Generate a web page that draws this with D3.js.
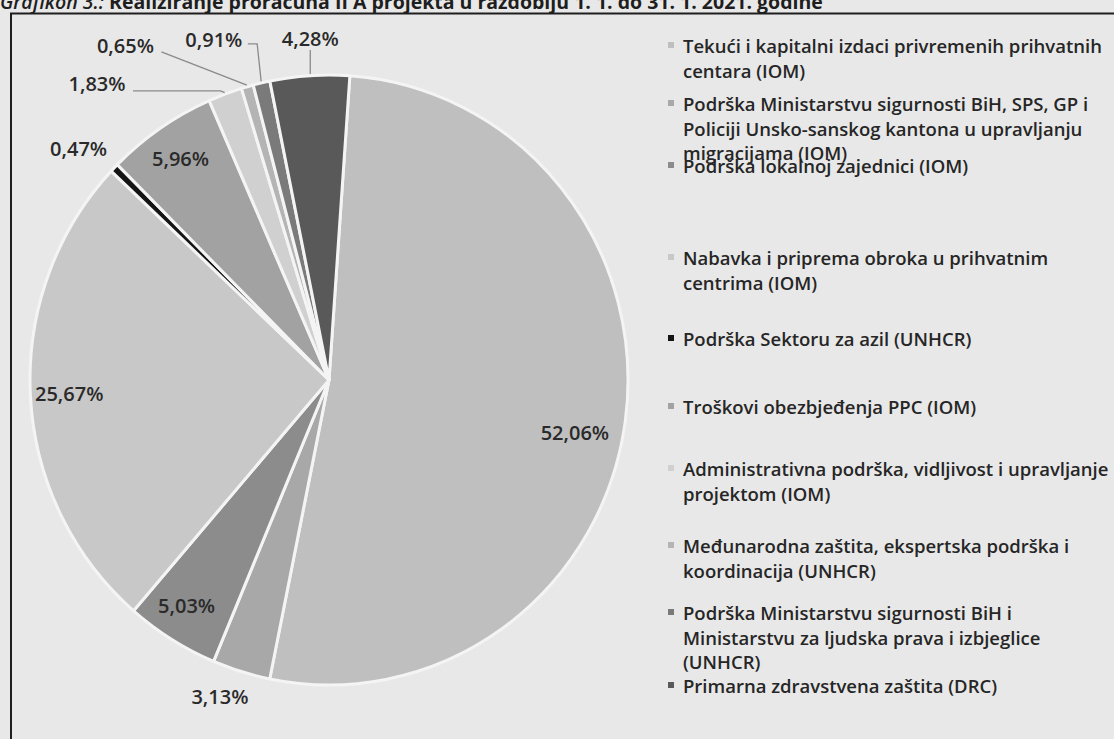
<!DOCTYPE html>
<html>
<head>
<meta charset="utf-8">
<script src="https://cdn.jsdelivr.net/npm/d3@7"></script>
<style>
  html, body { margin: 0; padding: 0; background: #e8e8e8; }
  svg { display: block; }
  text { font-family: "Open Sans", "DejaVu Sans", sans-serif; }
</style>
</head>
<body>
<svg id="chart" width="1114" height="739"></svg>
<script>
// ---------- data ----------
const titleLead = "Grafikon 3.: ";
const titleText = "Realiziranje proračuna II A projekta u razdoblju 1. 1. do 31. 1. 2021. godine";
const categories = [
  ["Tekući i kapitalni izdaci privremenih prihvatnih", "centara (IOM)"],
  ["Podrška Ministarstvu sigurnosti BiH, SPS, GP i", "Policiji Unsko-sanskog kantona u upravljanju", "migracijama (IOM)"],
  ["Podrška lokalnoj zajednici (IOM)"],
  ["Nabavka i priprema obroka u prihvatnim", "centrima (IOM)"],
  ["Podrška Sektoru za azil (UNHCR)"],
  ["Troškovi obezbjeđenja PPC (IOM)"],
  ["Administrativna podrška, vidljivost i upravljanje", "projektom (IOM)"],
  ["Međunarodna zaštita, ekspertska podrška i", "koordinacija (UNHCR)"],
  ["Podrška Ministarstvu sigurnosti BiH i", "Ministarstvu za ljudska prava i izbjeglice", "(UNHCR)"],
  ["Primarna zdravstvena zaštita (DRC)"]
];
const values = [52.06, 3.13, 5.03, 25.67, 0.47, 5.96, 1.83, 0.65, 0.91, 4.28];
const valueLabels = ["52,06%", "3,13%", "5,03%", "25,67%", "0,47%", "5,96%", "1,83%", "0,65%", "0,91%", "4,28%"];

// ---------- styles / layout ----------
const colors = ["#bfbfbf", "#a8a8a8", "#8c8c8c", "#c8c8c8", "#141414", "#a2a2a2", "#d0d0d0", "#b4b4b4", "#7a7a7a", "#595959"];
const cx = 329, cy = 380, RX = 299, RY = 305;
const rotation = 4 * Math.PI / 180;
// label placement: [angle offset from slice middle (deg), radius factor]
const labelPolar = [[4, 0.84], [2.3, 1.10], [1, 0.88], [0, 0.87], [-1.9, 1.13], [0, 0.88], [-18.3, 1.243], [-16, 1.29], [-6, 1.18], [0.5, 1.12]];
const leaderType = [null, null, null, null, null, null, "h", "d", "elbow", "v"];
const legendFirstLineY = [45, 103, 165, 257, 338, 406, 468, 545, 612, 685];
const legendLineH = 24.5;

const svg = d3.select("#chart");

svg.append("rect").attr("x", 0).attr("y", 0).attr("width", 1114).attr("height", 739).attr("fill", "#e8e8e8");
svg.append("line").attr("x1", 10).attr("x2", 1114).attr("y1", 13.5).attr("y2", 13.5).attr("stroke", "#1e1e1e").attr("stroke-width", 2);
svg.append("line").attr("x1", 11).attr("x2", 11).attr("y1", 13).attr("y2", 739).attr("stroke", "#1e1e1e").attr("stroke-width", 2);

// title (cut off at top like the reference)
const t = svg.append("text").attr("x", 0).attr("y", 9).attr("font-size", 19.5).attr("fill", "#1e1e1e").attr("font-weight", 700);
t.append("tspan").attr("font-style", "italic").attr("font-weight", 600).text(titleLead);
t.append("tspan").text(titleText);

// pie (slightly elliptical, as in the reference)
const pie = d3.pie().sort(null).value(d => d).startAngle(rotation).endAngle(rotation + 2 * Math.PI);
const arcs = pie(values);
const arc = d3.arc().innerRadius(0).outerRadius(RX);
const g = svg.append("g").attr("transform", `translate(${cx},${cy}) scale(1,${RY / RX})`);

g.selectAll("path.slice").data(arcs).join("path")
  .attr("class", "slice")
  .attr("d", arc)
  .attr("fill", (d, i) => colors[i])
  .attr("stroke", "#f4f4f4")
  .attr("stroke-width", 3)
  .attr("stroke-linejoin", "round");

function polar(angle, f) { return [cx + RX * f * Math.sin(angle), cy - RY * f * Math.cos(angle)]; }

const labelG = svg.append("g");
arcs.forEach((d, i) => {
  const mid = (d.startAngle + d.endAngle) / 2;
  const [lo, lf] = labelPolar[i];
  const [lx, ly] = polar(mid + lo * Math.PI / 180, lf);
  labelG.append("text")
    .attr("x", lx).attr("y", ly)
    .attr("text-anchor", "middle").attr("dominant-baseline", "central")
    .attr("font-size", 20).attr("fill", "#2a2a2a").attr("font-weight", 600)
    .text(valueLabels[i]);
  const type = leaderType[i];
  if (type) {
    const [ex, ey] = polar(mid, 1.005);
    let pts;
    if (type === "v") pts = [[lx, ly + 11], [lx, ey]];
    else if (type === "h") pts = [[lx + 36, ly + 7], [ex - 4, ly + 7], [ex, ey]];
    else if (type === "d") pts = [[lx + 36, ly + 6], [ex, ey]];
    else pts = [[lx + 34, ly + 4], [ex - 4, ly + 4], [ex, ey]];
    labelG.append("path").attr("d", d3.line()(pts)).attr("fill", "none").attr("stroke", "#8a8a8a").attr("stroke-width", 1.3);
  }
});

// legend
const leg = svg.append("g");
categories.forEach((lines, i) => {
  const y0 = legendFirstLineY[i];
  leg.append("rect").attr("x", 668).attr("y", y0 - 3).attr("width", 6).attr("height", 6).attr("fill", colors[i]);
  const tx = leg.append("text").attr("x", 683).attr("y", y0).attr("dominant-baseline", "central")
    .attr("font-size", 18.5).attr("fill", "#262626").attr("font-weight", 600);
  lines.forEach((ln, j) => {
    tx.append("tspan").attr("x", 683).attr("y", y0 + j * legendLineH).text(ln);
  });
});
</script>
</body>
</html>
